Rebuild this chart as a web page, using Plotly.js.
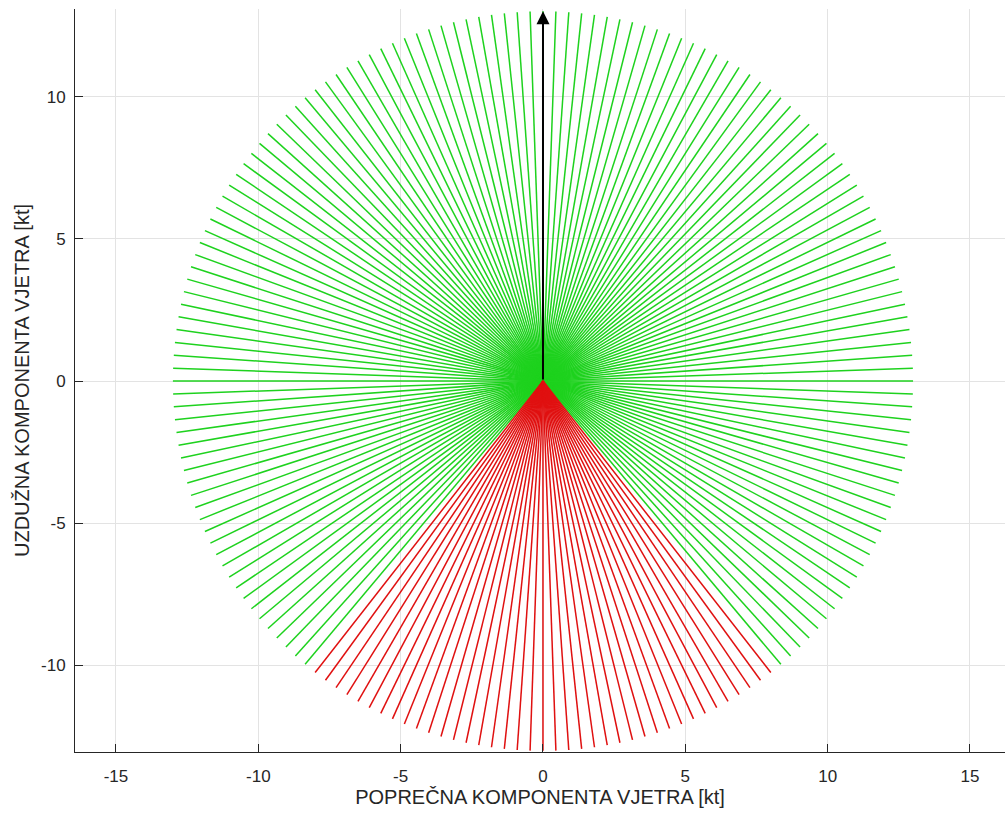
<!DOCTYPE html>
<html>
<head>
<meta charset="utf-8">
<script src="https://cdn.plot.ly/plotly-3.0.1.min.js"></script>
<style>
html,body{margin:0;padding:0;background:#fff;overflow:hidden;}
#chart{width:1005px;height:814px;}
</style>
</head>
<body>
<div id="chart"></div>
<script>
// Wind directions (degrees, measured from +x axis) of the plotted wind vectors
const directions = [
  0,2,4,6,8,10,12,14,16,18,20,22,24,26,28,30,32,34,36,38,40,42,44,46,48,50,52,54,56,58,
  60,62,64,66,68,70,72,74,76,78,80,82,84,86,88,90,92,94,96,98,100,102,104,106,108,110,112,114,116,118,
  120,122,124,126,128,130,132,134,136,138,140,142,144,146,148,150,152,154,156,158,160,162,164,166,168,170,172,174,176,178,
  180,182,184,186,188,190,192,194,196,198,200,202,204,206,208,210,212,214,216,218,220,222,224,226,228,230,232,234,236,238,
  240,242,244,246,248,250,252,254,256,258,260,262,264,266,268,270,272,274,276,278,280,282,284,286,288,290,292,294,296,298,
  300,302,304,306,308,310,312,314,316,318,320,322,324,326,328,330,332,334,336,338,340,342,344,346,348,350,352,354,356,358
];
const windSpeed = 13;            // kt, length of every vector
const redSector = [232, 308];    // directions drawn in red (inclusive)
const arrowTail = [0, 0];
const arrowHead = [0, 13];
const xTickVals = [-15, -10, -5, 0, 5, 10, 15];
const yTickVals = [-10, -5, 0, 5, 10];
const xTitle = 'POPREČNA KOMPONENTA VJETRA [kt]';
const yTitle = 'UZDUŽNA KOMPONENTA VJETRA [kt]';

const gx = [], gy = [], rx = [], ry = [];
directions.forEach(d => {
  const a = d * Math.PI / 180;
  const ex = windSpeed * Math.cos(a), ey = windSpeed * Math.sin(a);
  const isRed = d >= redSector[0] && d <= redSector[1];
  const X = isRed ? rx : gx, Y = isRed ? ry : gy;
  X.push(0, ex, null); Y.push(0, ey, null);
});

const traces = [
  {x: gx, y: gy, mode: 'lines', type: 'scatter', line: {color: '#1ed21e', width: 1.5}, hoverinfo: 'skip', showlegend: false},
  {x: rx, y: ry, mode: 'lines', type: 'scatter', line: {color: '#e01010', width: 1.5}, hoverinfo: 'skip', showlegend: false}
];

const FONT = 'Liberation Sans, Arial, sans-serif';
const axisCommon = {
  showgrid: true, gridcolor: '#e3e3e3', gridwidth: 1,
  zeroline: false, showline: true, linecolor: '#262626', linewidth: 1,
  ticks: 'inside', ticklen: 8, tickcolor: '#262626', tickwidth: 1,
  tickfont: {family: FONT, size: 17, color: '#262626'},
  mirror: false
};

const layout = {
  width: 1005, height: 814,
  margin: {l: 75, r: 0, t: 9, b: 62},
  paper_bgcolor: '#ffffff', plot_bgcolor: '#ffffff',
  showlegend: false,
  xaxis: Object.assign({}, axisCommon, {
    range: [-16.44, 16.23], tickvals: xTickVals, ticktext: xTickVals.map(String),
    ticklabelstandoff: 9,
    title: {text: xTitle, font: {family: FONT, size: 20, color: '#262626'}, standoff: 3}
  }),
  yaxis: Object.assign({}, axisCommon, {
    range: [-13.04, 13.08], tickvals: yTickVals, ticktext: yTickVals.map(String),
    ticklabelstandoff: 5,
    title: {text: yTitle, font: {family: FONT, size: 20, color: '#262626'}, standoff: 6}
  }),
  annotations: [{
    x: arrowHead[0], y: arrowHead[1], ax: arrowTail[0], ay: arrowTail[1],
    xref: 'x', yref: 'y', axref: 'x', ayref: 'y',
    text: '', showarrow: true, arrowhead: 2, arrowsize: 1.3, arrowwidth: 2, arrowcolor: '#000000'
  }]
};

Plotly.newPlot('chart', traces, layout, {displayModeBar: false, staticPlot: true});
</script>
</body>
</html>
